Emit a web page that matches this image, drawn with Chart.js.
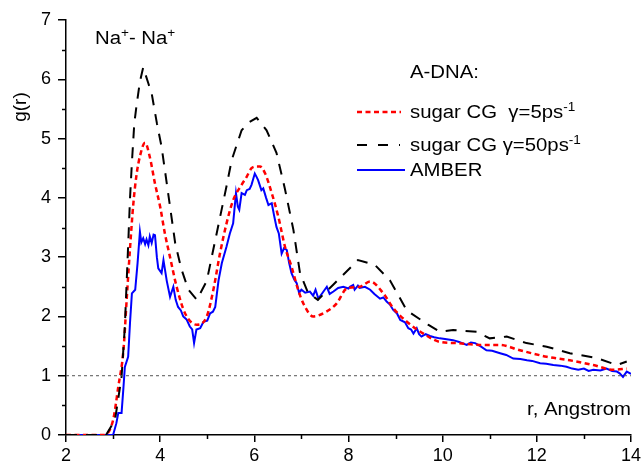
<!DOCTYPE html>
<html>
<head>
<meta charset="utf-8">
<script src="https://cdn.jsdelivr.net/npm/chart.js@4"></script>
<style>
  body { margin: 0; background: #fff; }
  #chart { display: block; }
</style>
</head>
<body>
<canvas id="chart" width="644" height="466"></canvas>
<script>
// g(r) for Na+ - Na+ pairs
const xTicks = [2, 4, 6, 8, 10, 12, 14];
const yTicks = [0, 1, 2, 3, 4, 5, 6, 7];

// sugar CG, gamma = 5 ps^-1 (red dotted)
const cg5R = [2, 2.8, 3.0, 3.11, 3.22, 3.29, 3.36, 3.43, 3.5, 3.57,
  3.68, 3.78, 3.89, 4.0, 4.1, 4.21, 4.35, 4.53, 4.78, 4.99,
  5.13, 5.27, 5.41, 5.55, 5.73, 5.84, 5.94, 6.05, 6.12, 6.23,
  6.37, 6.51, 6.65, 6.79, 6.93, 7.04, 7.25, 7.53, 7.75, 7.96,
  8.24, 8.46, 8.74, 8.95, 9.24, 9.59, 9.94, 10.3, 10.79, 11.2,
  11.64, 12.21, 12.7, 13.2, 13.63, 13.91];
const cg5G = [0, 0, 0.25, 0.81, 1.43, 2.3, 3.15, 3.9, 4.4, 4.7,
  4.93, 4.69, 4.24, 3.85, 3.4, 3.0, 2.5, 2.05, 1.86, 2.0,
  2.45, 3.06, 3.57, 3.96, 4.22, 4.36, 4.5, 4.53, 4.53, 4.41,
  4.08, 3.68, 3.18, 2.84, 2.45, 2.22, 2.0, 2.08, 2.22, 2.47,
  2.5, 2.59, 2.39, 2.14, 1.91, 1.71, 1.57, 1.55, 1.52, 1.52,
  1.43, 1.32, 1.26, 1.18, 1.1, 1.12];

// sugar CG, gamma = 50 ps^-1 (black dashed)
const cg50R = [2, 2.85, 3.04, 3.18, 3.25, 3.32, 3.36, 3.4, 3.45, 3.5,
  3.57, 3.64, 3.75, 3.82, 3.93, 4.03, 4.1, 4.21, 4.32, 4.45,
  4.6, 4.78, 4.99, 5.2, 5.41, 5.52, 5.73, 5.9, 6.05, 6.26,
  6.47, 6.65, 6.83, 6.97, 7.14, 7.35, 7.67, 8.2, 8.56, 8.88,
  9.24, 9.69, 9.94, 10.22, 10.72, 11.0, 11.36, 11.78, 12.21, 12.7,
  13.27, 13.7, 13.91];
const cg50G = [0, 0, 0.25, 0.98, 1.83, 3.2, 4.0, 4.6, 5.25, 5.57,
  5.96, 6.2, 5.93, 5.76, 5.26, 4.86, 4.47, 3.85, 3.23, 2.8,
  2.45, 2.28, 2.6, 3.4, 4.2, 4.64, 5.14, 5.28, 5.35, 5.14,
  4.76, 4.15, 3.46, 2.73, 2.4, 2.28, 2.53, 2.95, 2.87, 2.61,
  2.1, 1.86, 1.74, 1.77, 1.74, 1.63, 1.66, 1.55, 1.49, 1.38,
  1.3, 1.18, 1.24];

// AMBER (blue solid)
const amberR = [2, 3.0, 3.07, 3.11, 3.18, 3.22, 3.25, 3.32, 3.36, 3.4,
  3.47, 3.52, 3.57, 3.6, 3.64, 3.68, 3.71, 3.75, 3.78, 3.82,
  3.86, 3.89, 3.93, 3.96, 4.03, 4.07, 4.14, 4.21, 4.28, 4.33,
  4.38, 4.44, 4.49, 4.56, 4.63, 4.68, 4.72, 4.77, 4.85, 4.92,
  5.0, 5.06, 5.12, 5.17, 5.24, 5.31, 5.41, 5.48, 5.55, 5.61,
  5.65, 5.68, 5.73, 5.8, 5.84, 5.9, 5.94, 6.01, 6.05, 6.08,
  6.15, 6.19, 6.25, 6.3, 6.37, 6.42, 6.47, 6.52, 6.58, 6.63,
  6.69, 6.74, 6.79, 6.85, 6.9, 6.95, 7.0, 7.08, 7.18, 7.25,
  7.3, 7.36, 7.45, 7.54, 7.6, 7.68, 7.78, 7.89, 8.0, 8.03,
  8.1, 8.13, 8.2, 8.24, 8.35, 8.46, 8.55, 8.67, 8.74, 8.81,
  8.88, 8.95, 9.03, 9.1, 9.2, 9.27, 9.33, 9.38, 9.45, 9.5,
  9.55, 9.64, 9.73, 9.82, 9.94, 10.05, 10.22, 10.35, 10.51, 10.6,
  10.69, 10.8, 10.93, 11.05, 11.22, 11.35, 11.5, 11.65, 11.79, 11.9,
  12.07, 12.2, 12.35, 12.5, 12.63, 12.75, 12.88, 13.0, 13.1, 13.2,
  13.35, 13.48, 13.6, 13.7, 13.76, 13.83, 13.91, 14.0];
const amberG = [0, 0, 0.2, 0.37, 0.37, 0.8, 1.15, 1.32, 1.9, 2.39,
  2.45, 2.9, 3.43, 3.25, 3.32, 3.22, 3.3, 3.2, 3.35, 3.24,
  3.38, 3.37, 3.0, 2.81, 2.73, 2.95, 2.6, 2.33, 2.5, 2.28,
  2.16, 2.1, 2.0, 1.95, 1.83, 1.78, 1.55, 1.78, 1.8, 1.91,
  1.93, 2.05, 2.08, 2.16, 2.61, 2.9, 3.18, 3.4, 3.57, 4.08,
  3.85, 3.8, 4.08, 4.05, 4.13, 4.15, 4.22, 4.41, 4.35, 4.3,
  4.13, 4.16, 4.0, 3.88, 3.91, 3.7, 3.51, 3.4, 3.06, 3.15,
  3.12, 2.9, 2.73, 2.62, 2.56, 2.4, 2.45, 2.4, 2.42, 2.35,
  2.45, 2.3, 2.4, 2.5, 2.38, 2.42, 2.48, 2.5, 2.47, 2.5,
  2.53, 2.45, 2.52, 2.48, 2.5, 2.45, 2.38, 2.3, 2.32, 2.25,
  2.2, 2.11, 2.05, 1.94, 1.9, 1.8, 1.78, 1.71, 1.8, 1.7,
  1.66, 1.7, 1.67, 1.65, 1.63, 1.62, 1.6, 1.57, 1.52, 1.56,
  1.55, 1.5, 1.43, 1.42, 1.38, 1.35, 1.29, 1.28, 1.26, 1.25,
  1.21, 1.2, 1.18, 1.17, 1.15, 1.12, 1.1, 1.12, 1.08, 1.1,
  1.09, 1.12, 1.08, 1.07, 1.04, 0.98, 1.07, 1.03];

// g = 1 reference line
const refR = [2, 14];
const refG = [1, 1];

const legendTitle = 'A-DNA:';
const legendLabels = [
  [{ t: 'sugar CG  \u03B3=5ps' }, { t: '-1', sup: true }],
  [{ t: 'sugar CG \u03B3=50ps' }, { t: '-1', sup: true }],
  [{ t: 'AMBER' }]
];
const pairLabel = [{ t: 'Na' }, { t: '+', sup: true }, { t: '- Na' }, { t: '+', sup: true }];
const xTitle = 'r, Angstrom';
const yTitle = 'g(r)';

const FONT = '"Liberation Sans", Arial, sans-serif';
const STRETCH = 1.13; // the original text is a bit wide

function toPoints(xs, ys) {
  return xs.map((x, i) => ({ x: x, y: ys[i] }));
}

// text with superscript pieces, left aligned at x, middle at y
function drawRich(ctx, parts, x, y, size) {
  ctx.save();
  ctx.translate(x, y);
  ctx.scale(STRETCH, 1);
  ctx.textBaseline = 'alphabetic';
  ctx.textAlign = 'left';
  let cx = 0;
  const base = size * 0.36;
  parts.forEach(p => {
    if (p.sup) {
      ctx.font = Math.round(size * 0.68) + 'px ' + FONT;
      ctx.fillText(p.t, cx, base - size * 0.42);
    } else {
      ctx.font = size + 'px ' + FONT;
      ctx.fillText(p.t, cx, base);
    }
    cx += ctx.measureText(p.t).width;
  });
  ctx.restore();
}

const extras = {
  id: 'extras',
  afterDraw(chart) {
    const ctx = chart.ctx;
    const xs = chart.scales.x;
    const ys = chart.scales.y;
    ctx.save();
    ctx.strokeStyle = '#000';
    ctx.lineWidth = 1.5;
    // minor ticks
    for (let v = 3; v < 14; v += 2) {
      const px = Math.round(xs.getPixelForValue(v)) + 0.5;
      ctx.beginPath();
      ctx.moveTo(px, ys.bottom);
      ctx.lineTo(px, ys.bottom + 4);
      ctx.stroke();
    }
    for (let v = 0.5; v < 7; v += 1) {
      const py = Math.round(ys.getPixelForValue(v)) + 0.5;
      ctx.beginPath();
      ctx.moveTo(xs.left - 4, py);
      ctx.lineTo(xs.left, py);
      ctx.stroke();
    }

    ctx.fillStyle = '#000';
    drawRich(ctx, pairLabel, 95, 38, 18);

    // axis titles
    ctx.save();
    ctx.font = '18px ' + FONT;
    ctx.textAlign = 'right';
    ctx.textBaseline = 'middle';
    ctx.translate(631, 410);
    ctx.scale(STRETCH, 1);
    ctx.fillText(xTitle, 0, 0);
    ctx.restore();

    ctx.save();
    ctx.font = '19px ' + FONT;
    ctx.textBaseline = 'middle';
    ctx.translate(21, 107);
    ctx.rotate(-Math.PI / 2);
    ctx.textAlign = 'center';
    ctx.fillText(yTitle, 0, 0);
    ctx.restore();

    // legend
    drawRich(ctx, [{ t: legendTitle }], 410, 72, 18);
    const rows = [112, 145, 170];
    const sets = [chart.data.datasets[2], chart.data.datasets[1], chart.data.datasets[3]];
    const samples = [[357, 401], [357, 400], [357, 405]];
    rows.forEach((ry, i) => {
      const ds = sets[i];
      ctx.save();
      ctx.strokeStyle = ds.borderColor;
      ctx.lineWidth = ds.borderWidth;
      ctx.setLineDash(i === 1 ? [10, 11] : (ds.borderDash || []));
      ctx.beginPath();
      ctx.moveTo(samples[i][0], ry);
      ctx.lineTo(samples[i][1], ry);
      ctx.stroke();
      ctx.restore();
      ctx.fillStyle = '#000';
      drawRich(ctx, legendLabels[i], 410, ry, 18);
    });
    ctx.restore();
  }
};

new Chart(document.getElementById('chart'), {
  type: 'line',
  data: {
    datasets: [
      {
        data: toPoints(refR, refG),
        borderColor: '#555',
        borderWidth: 1,
        borderDash: [3, 3],
        pointRadius: 0
      },
      {
        data: toPoints(cg50R, cg50G),
        borderColor: '#000',
        borderWidth: 2,
        borderDash: [11, 9],
        pointRadius: 0,
        tension: 0
      },
      {
        data: toPoints(cg5R, cg5G),
        borderColor: '#ff0000',
        borderWidth: 2.5,
        borderDash: [5, 3.5],
        pointRadius: 0,
        cubicInterpolationMode: 'monotone'
      },
      {
        data: toPoints(amberR, amberG),
        borderColor: '#0000ff',
        borderWidth: 2,
        pointRadius: 0,
        tension: 0
      }
    ]
  },
  options: {
    responsive: false,
    animation: false,
    devicePixelRatio: 1,
    layout: { padding: { top: 20, right: 13, left: 0, bottom: 0 } },
    plugins: {
      legend: { display: false },
      tooltip: { enabled: false }
    },
    scales: {
      x: {
        type: 'linear',
        min: 2,
        max: 14,
        afterBuildTicks: s => { s.ticks = xTicks.map(v => ({ value: v })); },
        afterFit: s => { s.height = 31; },
        ticks: { color: '#000', font: { family: FONT, size: 18 }, padding: 3, maxRotation: 0 },
        grid: { drawOnChartArea: false, tickLength: 7, color: '#000', lineWidth: 1.5 },
        border: { color: '#000', width: 1.5 }
      },
      y: {
        min: 0,
        max: 7,
        afterBuildTicks: s => { s.ticks = yTicks.map(v => ({ value: v })); },
        afterFit: s => { s.width = 66; },
        ticks: { color: '#000', font: { family: FONT, size: 18 }, padding: 7 },
        grid: { drawOnChartArea: false, tickLength: 8, color: '#000', lineWidth: 1.5 },
        border: { color: '#000', width: 1.5 }
      }
    }
  },
  plugins: [extras]
});
</script>
</body>
</html>
